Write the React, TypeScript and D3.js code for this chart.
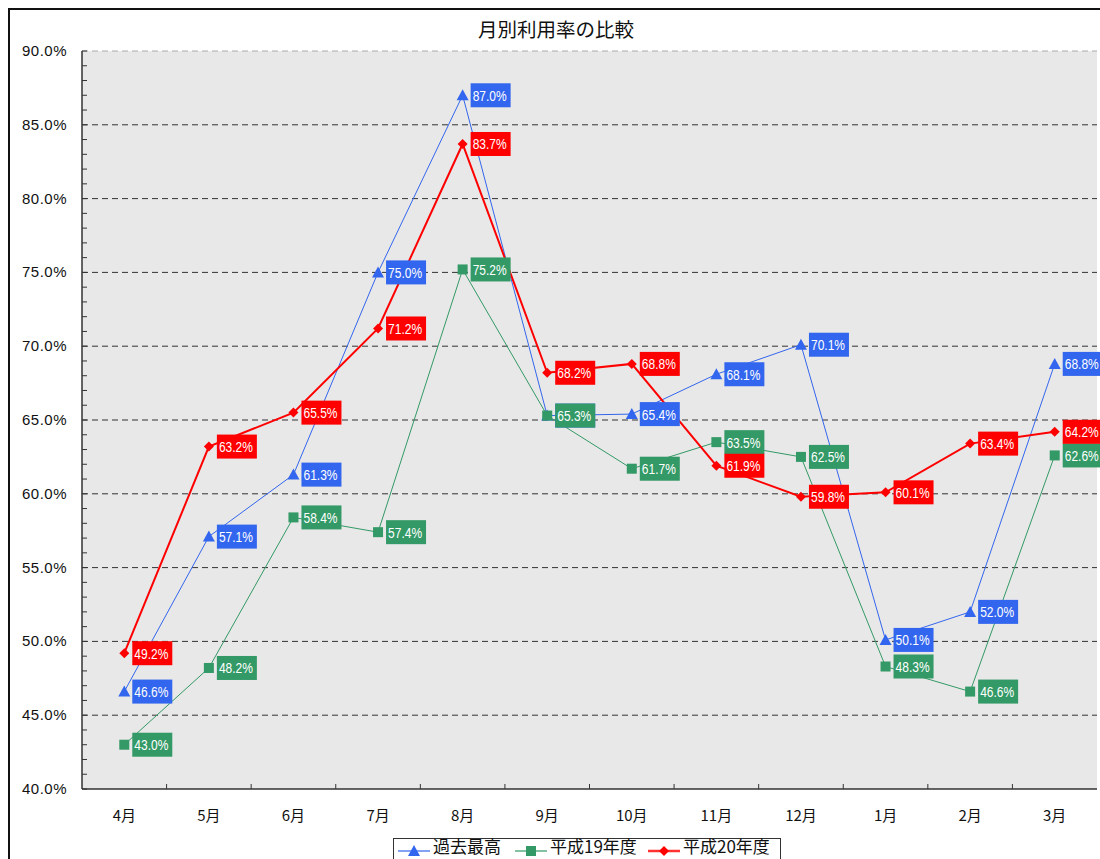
import React from "react";
import * as d3 from "d3";

const months = ["4月", "5月", "6月", "7月", "8月", "9月", "10月", "11月", "12月", "1月", "2月", "3月"];
const pastMax = [46.6, 57.1, 61.3, 75.0, 87.0, 65.3, 65.4, 68.1, 70.1, 50.1, 52.0, 68.8];
const h19 = [43.0, 48.2, 58.4, 57.4, 75.2, 65.3, 61.7, 63.5, 62.5, 48.3, 46.6, 62.6];
const h20 = [49.2, 63.2, 65.5, 71.2, 83.7, 68.2, 68.8, 61.9, 59.8, 60.1, 63.4, 64.2];
const seriesNames = ["過去最高", "平成19年度", "平成20年度"];
const yTicks = [40, 45, 50, 55, 60, 65, 70, 75, 80, 85, 90];
const title = "月別利用率の比較";

const W = 1100, H = 859;
const left = 82, right = 1097, top = 51, bottom = 789;

export default function App() {
  const x = d3.scaleBand<string>().domain(months).range([left, right]);
  const y = d3.scaleLinear().domain([40, 90]).range([bottom, top]);
  const cx = (m: string) => (x(m) as number) + x.bandwidth() / 2;

  const series = [
    { name: seriesNames[0], data: pastMax, color: "#3366ee", width: 1, marker: "tri" },
    { name: seriesNames[1], data: h19, color: "#339966", width: 1, marker: "sq" },
    { name: seriesNames[2], data: h20, color: "#ff0000", width: 2, marker: "dia" },
  ];

  const line = d3.line<number>().x((_, i) => cx(months[i])).y((d) => y(d));

  const marker = (type: string, px: number, py: number, color: string, key: string) => {
    if (type === "tri")
      return <path key={key} d={`M${px},${py - 6}L${px + 6},${py + 5}L${px - 6},${py + 5}Z`} fill={color} />;
    if (type === "sq")
      return <rect key={key} x={px - 5} y={py - 5} width={10} height={10} fill={color} />;
    return <path key={key} d={`M${px},${py - 5}L${px + 5},${py}L${px},${py + 5}L${px - 5},${py}Z`} fill={color} />;
  };

  const minor = d3.range(40, 91, 1);
  const labelFont = "'Liberation Sans', sans-serif";

  return (
    <svg width={W} height={H} style={{ position: "absolute", left: 0, top: 0 }} fontFamily="'Liberation Sans', 'Noto Sans CJK JP', sans-serif">
      <rect x={0} y={0} width={W} height={H} fill="#ffffff" />
      <rect x={9} y={9} width={1200} height={1000} fill="#ffffff" stroke="#111" strokeWidth={2} />
      <text x={556} y={37} textAnchor="middle" fontSize={19.5} fontFamily="'Noto Sans CJK JP', sans-serif" fill="#111">{title}</text>
      <rect x={left} y={top} width={right - left} height={bottom - top} fill="#e8e8e8" />
      {yTicks.map((t) =>
        t === 40 ? null : (
          <line key={"g" + t} x1={left} x2={right} y1={y(t)} y2={y(t)} stroke={t === 90 ? "#aaaaaa" : "#333333"} strokeWidth={1} strokeDasharray="6,4" />
        )
      )}
      {minor.map((t) => (
        <line key={"m" + t} x1={left} x2={left + 5} y1={y(t)} y2={y(t)} stroke="#333" strokeWidth={1} />
      ))}
      {months.slice(1).map((m) => (
        <line key={"xt" + m} x1={x(m) as number} x2={x(m) as number} y1={bottom} y2={bottom - 5} stroke="#333" strokeWidth={1} />
      ))}
      <line x1={left} x2={left} y1={top} y2={bottom} stroke="#333" strokeWidth={1.5} />
      <line x1={left} x2={right} y1={bottom} y2={bottom} stroke="#333" strokeWidth={1.5} />
      {yTicks.map((t) => (
        <text key={"yl" + t} x={67} y={y(t) + 5} textAnchor="end" fontSize={15} fill="#111" letterSpacing={0.5}>
          {t.toFixed(1) + "%"}
        </text>
      ))}
      {months.map((m) => (
        <text key={"xl" + m} x={cx(m)} y={821} textAnchor="middle" fontSize={15} fontFamily="'Noto Sans CJK JP', sans-serif" fill="#111">
          {m}
        </text>
      ))}
      {series.map((s) => (
        <g key={"s" + s.name}>
          <path d={line(s.data) as string} fill="none" stroke={s.color} strokeWidth={s.width} />
          {s.data.map((v, i) => marker(s.marker, cx(months[i]), y(v), s.color, s.name + i))}
        </g>
      ))}
      {series.map((s) => (
        <g key={"l" + s.name}>
          {s.data.map((v, i) => {
            const px = cx(months[i]) + 8;
            const py = y(v);
            return (
              <g key={i}>
                <rect x={px} y={py - 12} width={Math.min(40, W - px)} height={24} fill={s.color} />
                <text transform={`translate(${px + 2},${py + 5.5}) scale(0.8,1)`} fontSize={15} fill="#fff" fontFamily={labelFont}>
                  {v.toFixed(1) + "%"}
                </text>
              </g>
            );
          })}
        </g>
      ))}
      <g>
        <rect x={393.5} y={838.5} width={387} height={40} fill="#fff" stroke="#333" strokeWidth={1} />
        {series.map((s, i) => {
          const lx = [398, 515, 648][i];
          return (
            <g key={"lg" + i}>
              <line x1={lx} x2={lx + 32} y1={851} y2={851} stroke={s.color} strokeWidth={s.width + 0.5} opacity={0.8} />
              {marker(s.marker, lx + 16, 851, s.color, "lgm" + i)}
              <text x={lx + 35} y={853} fontSize={17} fontFamily="'Noto Sans CJK JP', sans-serif" fill="#111">{s.name}</text>
            </g>
          );
        })}
      </g>
    </svg>
  );
}
